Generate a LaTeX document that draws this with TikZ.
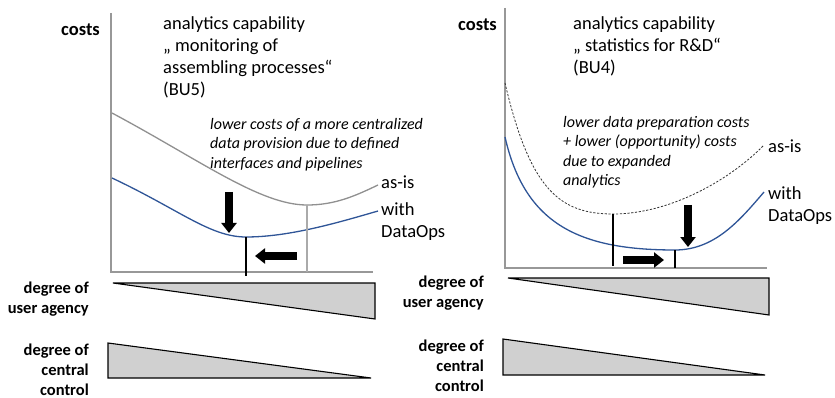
\documentclass[tikz,border=0pt]{standalone}
\usepackage{fontspec}
\setmainfont{Carlito}
\usetikzlibrary{arrows.meta}
\definecolor{dataopsblue}{HTML}{2F5597}
\definecolor{asisgray}{HTML}{A0A0A0}
\definecolor{wedgefill}{HTML}{D0D0D0}
\tikzset{
  axisline/.style={draw=asisgray!95!black, line width=1.6pt},
  asiscurve/.style={draw=asisgray!90!black, line width=1.3pt},
  asisdashed/.style={draw=black!80, line width=0.8pt, dash pattern=on 2.2pt off 1.6pt},
  opscurve/.style={draw=dataopsblue, line width=1.3pt},
  marker/.style={draw=black, line width=1.4pt},
  graymarker/.style={draw=asisgray!90, line width=1.4pt},
  blockarrow/.style={draw=black, line width=7.5pt, -{Triangle[width=15pt,length=10pt]}},
  wedge/.style={draw=black, fill=wedgefill, line width=1.1pt, line join=miter},
  heading/.style={inner sep=0pt, align=left, font=\fontsize{18.5}{22}\selectfont},
  note/.style={inner sep=0pt, align=left, font=\fontsize{16}{19.5}\selectfont\itshape},
  axislabel/.style={inner sep=0pt, font=\fontsize{18.5}{22}\selectfont\bfseries},
  curvelabel/.style={inner sep=0pt, align=left, font=\fontsize{18.5}{22.5}\selectfont},
  scalelabel/.style={inner sep=0pt, align=right, font=\fontsize{16.5}{19.8}\selectfont\bfseries},
}
\begin{document}
\begin{tikzpicture}[x=1pt, y=-1pt]
\useasboundingbox (0,0) rectangle (835,398);

% ---------------- left chart: monitoring of assembling processes ----------------
\coordinate (lo) at (111,272);
\coordinate (ltop) at (111,13);
\coordinate (lend) at (373,272);
\draw[axisline] (ltop) -- (lo) -- (lend);

\node[axislabel, anchor=mid east] (lcosts) at (100,33) {costs};
\node[heading, anchor=north west] (ltitle) at (163,16)
  {analytics capability\\„ monitoring of\\assembling processes“\\(BU5)};
\node[note, anchor=north west] (lnote) at (210,118)
  {lower costs of a more centralized\\data provision due to defined\\interfaces and pipelines};

\coordinate (lasisstart) at (112,113);
\coordinate (lasismin) at (307,205);
\coordinate (lasisend) at (378,185);
\coordinate (lopsstart) at (112,178);
\coordinate (lopsmin) at (246,237);
\coordinate (lopsend) at (378,211);
\draw[asiscurve] (lasisstart) .. controls (200,160) and (260,205) .. (lasismin)
  .. controls (335,205) and (355,196) .. (lasisend);
\draw[opscurve] (lopsstart) .. controls (180,210) and (210,237) .. (lopsmin)
  .. controls (290,237) and (340,222) .. (lopsend);

\node[curvelabel, anchor=mid west] (lasis) at (381,186) {as-is};
\node[curvelabel, anchor=north west] (lops) at (381,202) {with\\DataOps};

\coordinate (lasisfoot) at (307,272);
\coordinate (lopsfoot) at (246,276);
\draw[graymarker] (lasismin) -- (lasisfoot);
\draw[marker] (lopsmin) -- (lopsfoot);

\coordinate (ldownA) at (229,192);
\coordinate (ldownB) at (229,233);
\draw[blockarrow] (ldownA) -- (ldownB);
\coordinate (lshiftA) at (297,256);
\coordinate (lshiftB) at (255,256);
\draw[blockarrow] (lshiftA) -- (lshiftB);

% scales below the left chart
\node[scalelabel, anchor=north east] (luser) at (89,282) {degree of\\user agency};
\draw[wedge] (113,283) -- (375,283) -- (375,319) -- cycle;
\node[scalelabel, anchor=north east] (lcentral) at (89,344) {degree of\\central\\control};
\draw[wedge] (108,343) -- (108,378) -- (371,378) -- cycle;

% ---------------- right chart: statistics for R&D ----------------
\coordinate (ro) at (505,268);
\coordinate (rtop) at (505,8);
\coordinate (rend) at (767,268);
\draw[axisline] (rtop) -- (ro) -- (rend);

\node[axislabel, anchor=mid east] (rcosts) at (497,28) {costs};
\node[heading, anchor=north west] (rtitle) at (573,16)
  {analytics capability\\„ statistics for R\&D“\\(BU4)};
\node[note, anchor=north west] (rnote) at (563,116)
  {lower data preparation costs\\+ lower (opportunity) costs\\due to expanded\\analytics};

\coordinate (rasisstart) at (505,83);
\coordinate (rasismin) at (613,214);
\coordinate (rasisend) at (764,145);
\coordinate (ropsstart) at (505,137);
\coordinate (ropsmin) at (675,250);
\coordinate (ropsend) at (764,192);
\draw[asisdashed] (rasisstart) .. controls (530,190) and (560,214) .. (rasismin)
  .. controls (670,214) and (730,180) .. (rasisend);
\draw[opscurve] (ropsstart) .. controls (525,225) and (580,250) .. (ropsmin)
  .. controls (715,250) and (740,220) .. (ropsend);

\node[curvelabel, anchor=mid west] (rasis) at (768,150) {as-is};
\node[curvelabel, anchor=north west] (rops) at (768,186) {with\\DataOps};

\coordinate (rasisfoot) at (613,266);
\coordinate (ropsfoot) at (675,268);
\draw[marker] (rasismin) -- (rasisfoot);
\draw[marker] (ropsmin) -- (ropsfoot);

\coordinate (rdownA) at (688,205);
\coordinate (rdownB) at (688,247);
\draw[blockarrow] (rdownA) -- (rdownB);
\coordinate (rshiftA) at (623,260);
\coordinate (rshiftB) at (664,260);
\draw[blockarrow] (rshiftA) -- (rshiftB);

% scales below the right chart
\node[scalelabel, anchor=north east] (ruser) at (484,276) {degree of\\user agency};
\draw[wedge] (508,278) -- (769,278) -- (769,315) -- cycle;
\node[scalelabel, anchor=north east] (rcentral) at (484,340) {degree of\\central\\control};
\draw[wedge] (503,339) -- (503,375) -- (765,375) -- cycle;
\end{tikzpicture}
\end{document}
